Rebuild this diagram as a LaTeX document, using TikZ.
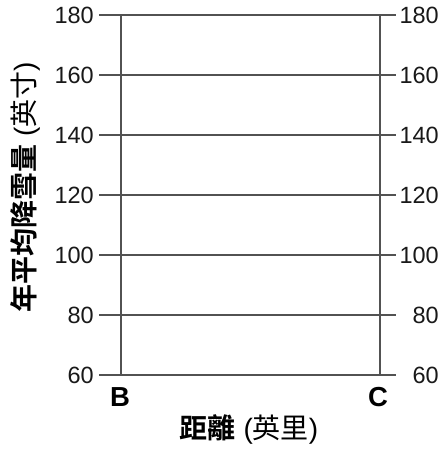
\documentclass[tikz,border=0pt]{standalone}
\usepackage{fontspec}
\setmainfont{Liberation Sans}
\newfontfamily\cjk{Noto Sans CJK TC}[BoldFont={Noto Sans CJK TC Bold}]
\begin{document}
\begin{tikzpicture}[x=1pt,y=1pt,
  gridline/.style={draw=black!68,line width=1.5pt},
  ticklbl/.style={font=\fontsize{23.5}{23.5}\selectfont,inner sep=0pt,text=black!90},
  ptlbl/.style={font=\fontsize{27.5}{27.5}\selectfont\bfseries,inner sep=0pt},
  axlbl/.style={font=\fontsize{28}{28}\selectfont,inner sep=0pt}]
\useasboundingbox (0,0) rectangle (447,-452);
% grid
\foreach \v in {60,80,...,180}{
  \pgfmathsetmacro\yy{-(375-3*(\v-60))}
  \coordinate (l\v) at (99,\yy);
  \coordinate (r\v) at (396,\yy);
  \draw[gridline] (l\v) -- (r\v);
  \node[ticklbl,anchor=east] (tl\v) at (94,\yy) {\v};
  \node[ticklbl,anchor=east] (tr\v) at (439,\yy) {\v};
}
\coordinate (bt) at (121,-15.3);
\coordinate (bb) at (121,-375);
\coordinate (ct) at (380,-15.3);
\coordinate (cb) at (380,-375);
\draw[gridline] (bt) -- (bb);
\draw[gridline] (ct) -- (cb);
\node[ptlbl] (B) at (120,-397) {B};
\node[ptlbl] (C) at (378,-397) {C};
\node[axlbl] (xl) at (249,-429) {{\cjk\bfseries 距離} ({\cjk 英里})};
\node[axlbl,rotate=90] (yl) at (25,-187) {{\cjk\bfseries 年平均降雪量} ({\cjk 英寸})};
\end{tikzpicture}
\end{document}
